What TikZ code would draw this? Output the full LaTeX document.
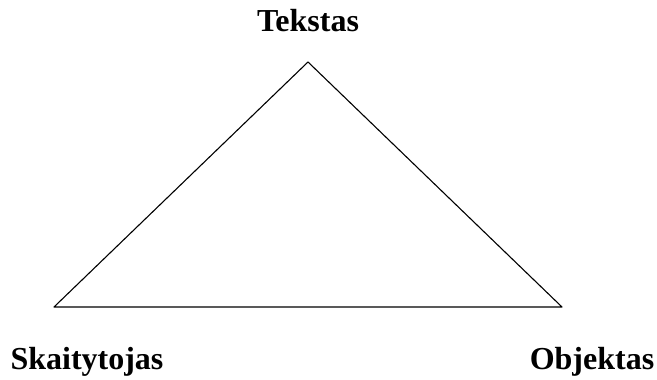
\documentclass[tikz,border=0pt]{standalone}
\usepackage{fontspec}
\setmainfont{Liberation Serif}
\begin{document}
\begin{tikzpicture}[x=1pt,y=1pt,line join=round,line width=1.1pt,
	lbl/.style={font=\fontsize{32}{38}\selectfont\bfseries,anchor=base,inner sep=0pt}]
			\useasboundingbox (0,0) rectangle (657,380);
			\path (308,318) coordinate (T) (54,73) coordinate (S) (562,73) coordinate (O);
			\draw (T)--(S)--(O)--cycle;
			\node[lbl] (tekstas) at (308,348) {Tekstas};
			\node[lbl] (skait) at (87,10) {Skaitytojas};
			\node[lbl] (obj) at (592,10) {Objektas};
			\end{tikzpicture}
\end{document}
